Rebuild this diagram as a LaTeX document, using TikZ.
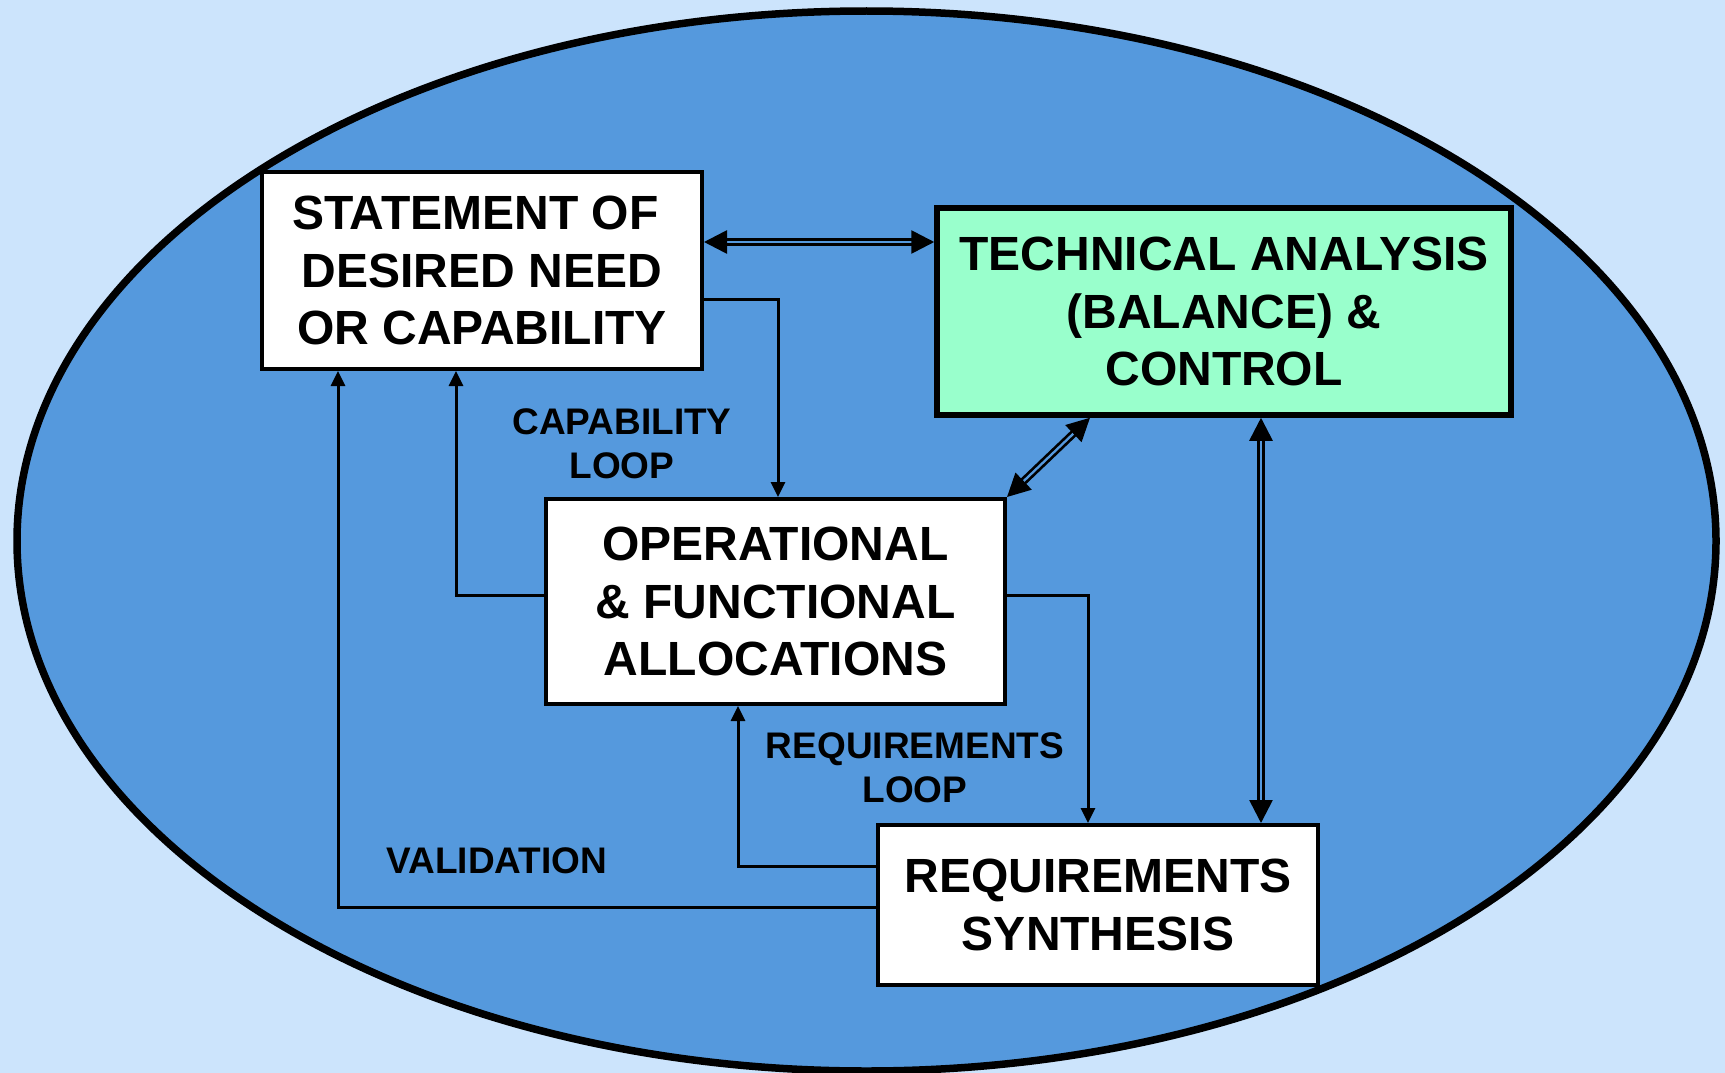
\documentclass[tikz,border=0pt]{standalone}
\usepackage{fontspec}
\setmainfont{Liberation Sans}
\usetikzlibrary{arrows.meta}
\definecolor{pagebg}{RGB}{204,228,252}
\definecolor{ovalblue}{RGB}{85,153,221}
\definecolor{techgreen}{RGB}{153,255,204}
\tikzset{
  box/.style={draw=black, line width=4pt, fill=white, inner sep=0pt, align=center,
    font=\fontsize{48}{57.5}\selectfont\bfseries},
  loopnote/.style={align=center, inner sep=0pt, font=\fontsize{37}{44}\selectfont\bfseries},
  flow/.style={line width=3pt, -{Triangle[length=15pt,width=14pt]}},
  link/.style={line width=2.7pt, double=ovalblue, double distance=2.3pt,
    {Triangle[length=23pt,width=23pt]}-{Triangle[length=23pt,width=23pt]}},
}
\begin{document}
\begin{tikzpicture}[x=1pt,y=-1pt]
  \useasboundingbox (0,0) rectangle (1725,1073);
  \fill[pagebg] (0,0) rectangle (1725,1073);
  \draw[line width=7.5pt, fill=ovalblue] (866.5,541) ellipse [x radius=849.5, y radius=530];

  \node[box, minimum width=440pt, minimum height=197pt] (stmt) at (482,270.5)
    {STATEMENT OF\hspace*{0.28em}\\DESIRED NEED\\OR CAPABILITY};
  \node[box, fill=techgreen, line width=5.5pt, minimum width=574pt, minimum height=207pt] (tech) at (1224,311.5)
    {TECHNICAL ANALYSIS\\(BALANCE) \&\\CONTROL};
  \node[box, minimum width=459pt, minimum height=205pt] (ops) at (775.5,601.5)
    {OPERATIONAL\\\& FUNCTIONAL\\ALLOCATIONS};
  \node[box, minimum width=440pt, minimum height=160pt] (synth) at (1098,905)
    {REQUIREMENTS\\SYNTHESIS};

  % two-way links to and from the analysis box
  \draw[link] (stmt.east |- 0,242) -- (tech.west |- 0,242);
  \draw[link] (tech.south -| 1090,0) -- (ops.north east);
  \draw[link] (tech.south -| 1261,0) -- (synth.north -| 1261,0);

  % capability loop
  \draw[flow] (stmt.east |- 0,299) -| (ops.north -| 778,0);
  \draw[flow] (ops.west |- 0,595) -| (stmt.south -| 456,0);

  % requirements loop
  \draw[flow] (ops.east |- 0,595) -| (synth.north -| 1088,0);
  \draw[flow] (synth.west |- 0,866) -| (ops.south -| 738,0);

  % validation
  \draw[flow] (synth.west |- 0,907) -| (stmt.south -| 338,0);

  \node[loopnote] (caplabel) at (622,444) {CAPABILITY\\LOOP};
  \node[loopnote] (reqlabel) at (915,768) {REQUIREMENTS\\LOOP};
  \node[loopnote] (vallabel) at (497,861) {VALIDATION};
\end{tikzpicture}
\end{document}
